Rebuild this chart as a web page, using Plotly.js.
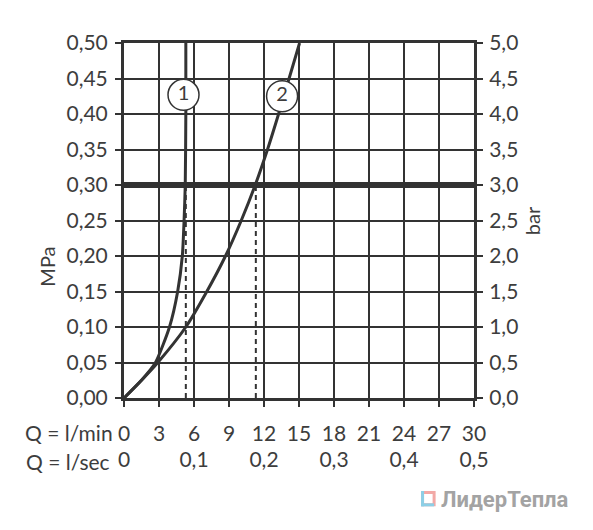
<!DOCTYPE html>
<html>
<head>
<meta charset="utf-8">
<script src="https://cdn.plot.ly/plotly-3.0.1.min.js"></script>
<style>html,body{margin:0;padding:0;background:#fff;}#chart{width:593px;height:530px;}</style>
</head>
<body>
<div id="chart"></div>
<script>
// Curve 1 (flow Q in l/min vs pressure in MPa)
const curve1Q = [0, 1.5, 2.7, 3.9, 4.6, 5.0, 5.15, 5.25, 5.3, 5.3];
const curve1P = [0, 0.025, 0.05, 0.10, 0.15, 0.20, 0.25, 0.30, 0.40, 0.50];
// Curve 2
const curve2Q = [0, 1.5, 2.9, 5.3, 7.1, 8.7, 10.05, 11.25, 12.3, 13.25, 14.15, 15.05];
const curve2P = [0, 0.025, 0.05, 0.10, 0.15, 0.20, 0.25, 0.30, 0.35, 0.40, 0.45, 0.50];
// reference pressure and flows at that pressure
const refPressure = 0.30;
const refFlows = [5.3, 11.3];
// curve labels
const labelText = ['1', '2'];
const labelQ = [5.1, 13.55];
const labelP = [0.427, 0.425];
// axis ticks
const minTicks = [0, 3, 6, 9, 12, 15, 18, 21, 24, 27, 30];
const secVals = [0, 0.1, 0.2, 0.3, 0.4, 0.5];
const secText = ['0', '0,1', '0,2', '0,3', '0,4', '0,5'];

const ink = '#333333';
const txt = '#3d3d3d';
const fontFam = 'Lato, "Open Sans", sans-serif';

const traces = [];
// thick reference line
traces.push({x: [minTicks[0], minTicks[minTicks.length - 1]], y: [refPressure, refPressure], mode: 'lines',
  line: {color: ink, width: 6}, hoverinfo: 'skip', showlegend: false});
// dashed drop lines
refFlows.forEach(q => traces.push({x: [q, q], y: [0, refPressure], mode: 'lines',
  line: {color: ink, width: 2, dash: '5px,4px'}, hoverinfo: 'skip', showlegend: false}));
traces.push({x: curve1Q, y: curve1P, mode: 'lines', line: {color: ink, width: 3, shape: 'spline', smoothing: 0.6}, showlegend: false});
traces.push({x: curve2Q, y: curve2P, mode: 'lines', line: {color: ink, width: 3, shape: 'spline', smoothing: 0.8}, showlegend: false});
traces.push({x: labelQ, y: labelP, mode: 'markers+text', text: labelText, textposition: 'middle center',
  textfont: {family: fontFam, size: 20, color: txt},
  marker: {size: 31, color: '#ffffff', line: {color: ink, width: 1.5}}, showlegend: false, hoverinfo: 'skip'});
// secondary axes carrier
traces.push({x: [secVals[0]], y: [0], xaxis: 'x2', yaxis: 'y2', mode: 'markers', marker: {opacity: 0}, showlegend: false, hoverinfo: 'skip'});

const layout = {
  width: 593, height: 530,
  margin: {l: 124, r: 119, t: 43, b: 132},
  paper_bgcolor: '#ffffff', plot_bgcolor: '#ffffff',
  separators: ', ',
  font: {family: fontFam, size: 21, color: txt},
  xaxis: {range: [0, 30], tickvals: minTicks, ticks: 'outside', ticklen: 6, tickwidth: 2, tickcolor: ink,
    showgrid: true, gridcolor: ink, gridwidth: 2, zeroline: false,
    showline: true, linecolor: ink, linewidth: 3, mirror: true, ticklabelstandoff: 9,
    tickfont: {family: fontFam, size: 21, color: txt}},
  xaxis2: {range: [0, 0.5], overlaying: 'x', side: 'bottom', anchor: 'y', tickvals: secVals, ticktext: secText,
    ticks: '', showgrid: false, zeroline: false, showline: false, ticklabelstandoff: 47,
    tickfont: {family: fontFam, size: 21, color: txt}},
  yaxis: {range: [0, 0.5], dtick: 0.05, tickformat: '.2f', ticks: 'outside', ticklen: 6, tickwidth: 2, tickcolor: ink,
    showgrid: true, gridcolor: ink, gridwidth: 2, zeroline: false,
    showline: true, linecolor: ink, linewidth: 3, ticklabelstandoff: 3,
    tickfont: {family: fontFam, size: 21, color: txt}},
  yaxis2: {range: [0, 5], dtick: 0.5, tickformat: '.1f', overlaying: 'y', side: 'right', anchor: 'x',
    ticks: 'outside', ticklen: 6, tickwidth: 2, tickcolor: ink, showgrid: false, zeroline: false,
    showline: true, linecolor: ink, linewidth: 3, ticklabelstandoff: 2,
    tickfont: {family: fontFam, size: 21, color: txt}},
  annotations: [
    {text: 'MPa', xref: 'paper', yref: 'paper', x: -0.22, y: 0.37, textangle: -90, showarrow: false,
      xanchor: 'center', yanchor: 'middle', font: {family: fontFam, size: 20, color: txt}},
    {text: 'bar', xref: 'paper', yref: 'paper', x: 1.165, y: 0.5, textangle: -90, showarrow: false,
      xanchor: 'center', yanchor: 'middle', font: {family: fontFam, size: 20, color: txt}},
    {text: 'Q = l/min', xref: 'paper', yref: 'paper', x: -0.025, y: -0.096, showarrow: false,
      xanchor: 'right', yanchor: 'middle', font: {family: fontFam, size: 21, color: txt}},
    {text: 'Q = l/sec', xref: 'paper', yref: 'paper', x: -0.034, y: -0.18, showarrow: false,
      xanchor: 'right', yanchor: 'middle', font: {family: fontFam, size: 21, color: txt}},
    {text: '<b>ЛидерТепла</b>', xref: 'paper', yref: 'paper', x: 1.089, y: -0.285, showarrow: false,
      xanchor: 'center', yanchor: 'middle', font: {family: 'Roboto, sans-serif', size: 22, color: '#a3a3a3'}}
  ],
  shapes: [
    {type: 'rect', xref: 'paper', yref: 'paper', x0: 0.853, x1: 0.886, y0: -0.301, y1: -0.266,
      line: {color: '#f2a9a6', width: 3}, fillcolor: '#ffffff'},
    {type: 'line', xref: 'paper', yref: 'paper', x0: 0.853, x1: 0.853, y0: -0.305, y1: -0.262,
      line: {color: '#8ccfe6', width: 3}},
    {type: 'line', xref: 'paper', yref: 'paper', x0: 0.849, x1: 0.886, y0: -0.301, y1: -0.301,
      line: {color: '#8ccfe6', width: 3}}
  ]
};

Plotly.newPlot('chart', traces, layout, {staticPlot: true, displayModeBar: false});
</script>
</body>
</html>
